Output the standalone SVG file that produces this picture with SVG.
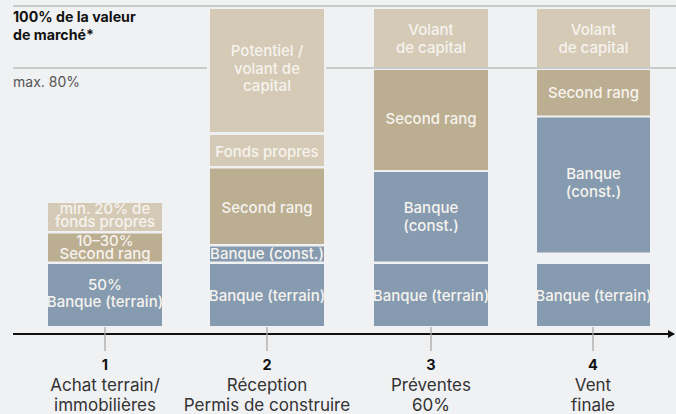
<svg xmlns="http://www.w3.org/2000/svg" width="676" height="414" viewBox="0 0 676 414">
<defs>
<style>
.bg{fill:#f0f1f3}
.l1{fill:#d5cab6}
.l2{fill:#bcae91}
.b{fill:#869bb0}
.t{font-family:Inter,"Liberation Sans",sans-serif;font-size:15px;font-weight:500;fill:#f6f3ee;text-anchor:middle}
.hl{stroke:#bdbdbd;stroke-width:1.5}
.tick{stroke:#a9a9a9;stroke-width:1.3}
.num{font-family:Inter,"Liberation Sans",sans-serif;font-size:14.5px;font-weight:700;fill:#111;text-anchor:middle}
.lab{font-family:Inter,"Liberation Sans",sans-serif;font-size:17px;font-weight:400;fill:#333;text-anchor:middle}
.hd{font-family:Inter,"Liberation Sans",sans-serif;font-size:14.2px;font-weight:700;fill:#111}
</style>
<marker id="arr" markerWidth="8" markerHeight="8" refX="6" refY="4" orient="auto" markerUnits="userSpaceOnUse">
<path d="M0,0 L7,4 L0,8 Z" fill="#111"/>
</marker>
</defs>
<rect class="bg" x="0" y="0" width="676" height="414"/>
<g id="guides">
<line class="hl" x1="13" y1="6" x2="676" y2="6"/>
<line class="hl" x1="13" y1="68" x2="207" y2="68"/>
<line class="hl" x1="326" y1="68" x2="676" y2="68"/>
<text class="hd" x="13" y="22">100% de la valeur</text>
<text class="hd" x="13" y="40">de marché*</text>
<text x="13" y="87" font-family="Inter,'Liberation Sans',sans-serif" font-size="14" font-weight="400" fill="#555">max. 80%</text>
</g>
<g id="col1">
<rect class="l1" x="48" y="203" width="114" height="28"/>
<text class="t" x="105" y="214" font-size="14.5">min. 20% de</text>
<text class="t" x="105" y="227" font-size="14.5">fonds propres</text>
<rect class="l2" x="48" y="233.5" width="114" height="28"/>
<text class="t" x="105" y="245.5" font-size="14.5">10–30%</text>
<text class="t" x="105" y="258.5" font-size="14.5">Second rang</text>
<rect class="b" x="48" y="264" width="114" height="62"/>
<text class="t" x="105" y="289.5">50%</text>
<text class="t" x="105" y="307">Banque (terrain)</text>
</g>
<g id="col2">
<rect class="l1" x="210" y="9" width="114" height="123"/>
<text class="t" x="267" y="56">Potentiel /</text>
<text class="t" x="267" y="73.5">volant de</text>
<text class="t" x="267" y="91">capital</text>
<rect class="l1" x="210" y="135" width="114" height="31"/>
<text class="t" x="267" y="156.5">Fonds propres</text>
<rect class="l2" x="210" y="168.5" width="114" height="75.5"/>
<text class="t" x="267" y="212.5">Second rang</text>
<rect class="b" x="210" y="246.5" width="114" height="15"/>
<text class="t" x="267" y="259" font-size="14.5">Banque (const.)</text>
<rect class="b" x="210" y="264" width="114" height="62"/>
<text class="t" x="267" y="300.5">Banque (terrain)</text>
</g>
<g id="col3">
<rect class="l1" x="374" y="9" width="114" height="58"/>
<text class="t" x="431" y="35">Volant</text>
<text class="t" x="431" y="53">de capital</text>
<rect class="l2" x="374" y="70" width="114" height="100"/>
<text class="t" x="431" y="124">Second rang</text>
<rect class="b" x="374" y="172" width="114" height="89.5"/>
<text class="t" x="431" y="213">Banque</text>
<text class="t" x="431" y="231">(const.)</text>
<rect class="b" x="374" y="264" width="114" height="62"/>
<text class="t" x="431" y="300.5">Banque (terrain)</text>
</g>
<g id="col4">
<rect class="l1" x="537" y="9" width="113" height="58"/>
<text class="t" x="593.5" y="35">Volant</text>
<text class="t" x="593.5" y="53">de capital</text>
<rect class="l2" x="537" y="70" width="113" height="45.5"/>
<text class="t" x="593.5" y="97.5">Second rang</text>
<rect class="b" x="537" y="117.5" width="113" height="135"/>
<text class="t" x="593.5" y="179">Banque</text>
<text class="t" x="593.5" y="197">(const.)</text>
<rect class="b" x="537" y="264" width="113" height="62"/>
<text class="t" x="593.5" y="300.5">Banque (terrain)</text>
</g>
<g id="connectors">
<line x1="13" y1="334" x2="674" y2="334" stroke="#111" stroke-width="2.2" marker-end="url(#arr)"/>
<line class="tick" x1="105" y1="327" x2="105" y2="351"/>
<line class="tick" x1="267" y1="327" x2="267" y2="351"/>
<line class="tick" x1="431" y1="327" x2="431" y2="351"/>
<line class="tick" x1="593" y1="327" x2="593" y2="351"/>
</g>
<g id="labels">
<text class="num" x="105" y="370">1</text>
<text class="lab" x="105" y="391">Achat terrain/</text>
<text class="lab" x="105" y="411">immobilières</text>
<text class="num" x="267" y="370">2</text>
<text class="lab" x="267" y="391">Réception</text>
<text class="lab" x="267" y="411">Permis de construire</text>
<text class="num" x="431" y="370">3</text>
<text class="lab" x="431" y="391">Préventes</text>
<text class="lab" x="431" y="411">60%</text>
<text class="num" x="593" y="370">4</text>
<text class="lab" x="593" y="391">Vent</text>
<text class="lab" x="593" y="411">finale</text>
</g>
</svg>
